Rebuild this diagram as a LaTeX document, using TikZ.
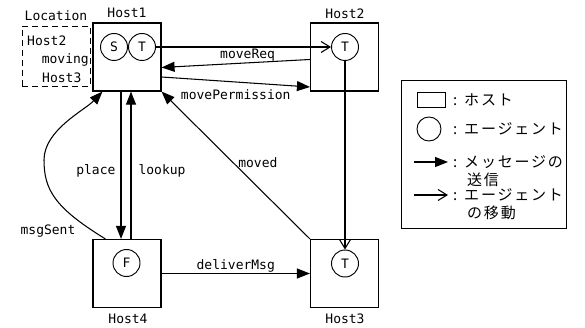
\documentclass[tikz,border=0pt]{standalone}
\usepackage{fontspec}
\setmainfont{DejaVu Sans Mono}
\newfontfamily\jpfont[LetterSpace=12]{Noto Sans CJK JP}
\usetikzlibrary{arrows.meta, calc, positioning}

\tikzset{
  host/.style={draw, line width=1.15pt, minimum size=68pt, inner sep=0pt},
  agent/.style={draw, circle, line width=0.95pt, minimum size=27pt, inner sep=0pt},
  msg/.style={line width=1.05pt, -{Triangle[length=13pt,width=10pt]}},
  migrate/.style={line width=1.05pt, -{Straight Barb[length=9pt,width=11pt]}},
  lbl/.style={inner sep=1pt},
  keytext/.style={lbl, anchor=west, font=\jpfont\fontsize{15}{18}\selectfont},
}

\begin{document}
\begin{tikzpicture}[x=1pt, y=-1pt, font=\fontsize{13}{15}\selectfont]
\useasboundingbox (0,0) rectangle (585,328);
% Hosts and their names
\node[host] (host1) at (127,57) {};
\node[host] (host2) at (344.5,57) {};
\node[host] (host3) at (344.5,273.5) {};
\node[host] (host4) at (127,273.5) {};
\node[lbl] (host1name) at (127,13) {Host1};
\node[lbl] (host2name) at (345,14) {Host2};
\node[lbl] (host3name) at (345,319) {Host3};
\node[lbl] (host4name) at (128,319) {Host4};
% Agents sitting in the hosts
\node[agent] (s1) at (114,47) {S};
\node[agent] (t1) at (142,47) {T};
\node[agent] (t2) at (345,47) {T};
\node[agent] (t3) at (345,263.5) {T};
\node[agent] (f4) at (126.5,263) {F};
% Location table kept by Host1
\node[lbl] (locname) at (56,16) {Location};
\node[draw, dash pattern=on 6pt off 4pt, line width=0.8pt,
  minimum width=68pt, minimum height=60pt] (locbox) at (56,56) {};
\node[lbl, anchor=west] (lochost2) at (26,41) {Host2};
\node[lbl, anchor=east] (locmoving) at (90,60) {moving};
\node[lbl, anchor=west] (lochost3) at (41,78) {Host3};
% Agent T migrates Host1 -> Host2 -> Host3
\draw[migrate] (t1) -- (t2);
\draw[migrate] (t2) -- (t3);
% Messages
\draw[msg] ($(host2.west)+(0,2.5)$) -- node[lbl, above, pos=0.42] {moveReq}
  ($(host1.east)+(0,10.5)$);
\draw[msg] ($(host1.east)+(0,20)$) -- node[lbl, below=6pt] {movePermission}
  ($(host2.west)+(0,30)$);
\draw[msg] ($(host1.south)+(-6,0)$) -- node[lbl, left=4pt, pos=0.54] {place}
  ($(host4.north)+(-6,0)$);
\draw[msg] ($(host4.north)+(4,0)$) -- node[lbl, right=6pt, pos=0.46] {lookup}
  ($(host1.south)+(4,0)$);
\draw[msg] (host3.north west) -- node[lbl, right=4pt, pos=0.52] {moved}
  (host1.south east);
\draw[msg] (host4) -- node[lbl, above] {deliverMsg} (host3);
\draw[msg] ($(host4.north west)+(13,0)$) .. controls (55,208) and (44,190) .. (44,160)
  .. controls (44,130) and (85,110) .. ($(host1.south west)+(10,0)$);
\node[lbl] (msgsentname) at (48,231) {msgSent};
% Legend
\node[draw, line width=0.95pt, minimum width=165pt, minimum height=148pt] (legend)
  at (483.5,154) {};
\node[draw, line width=0.95pt, minimum width=28pt, minimum height=15pt,
  inner sep=0pt] (keyhost) at (431,100) {};
\node[draw, circle, line width=0.95pt, minimum size=24pt, inner sep=0pt] (keyagent)
  at (429,129) {};
\coordinate (keymsgA) at (414,162);
\coordinate (keymsgB) at (448,162);
\draw[msg] (keymsgA) -- (keymsgB);
\coordinate (keymigA) at (414,195);
\coordinate (keymigB) at (448,195);
\draw[migrate] (keymigA) -- (keymigB);
\node[keytext] (keyhosttext) at (452,100) {: ホスト};
\node[keytext] (keyagenttext) at (452,129) {: エージェント};
\node[keytext] (keymsgtext) at (452,162) {: メッセージの};
\node[keytext] (keymsgtext2) at (466,180) {送信};
\node[keytext] (keymigtext) at (452,195) {: エージェント};
\node[keytext] (keymigtext2) at (466,213) {の移動};
\end{tikzpicture}
\end{document}
